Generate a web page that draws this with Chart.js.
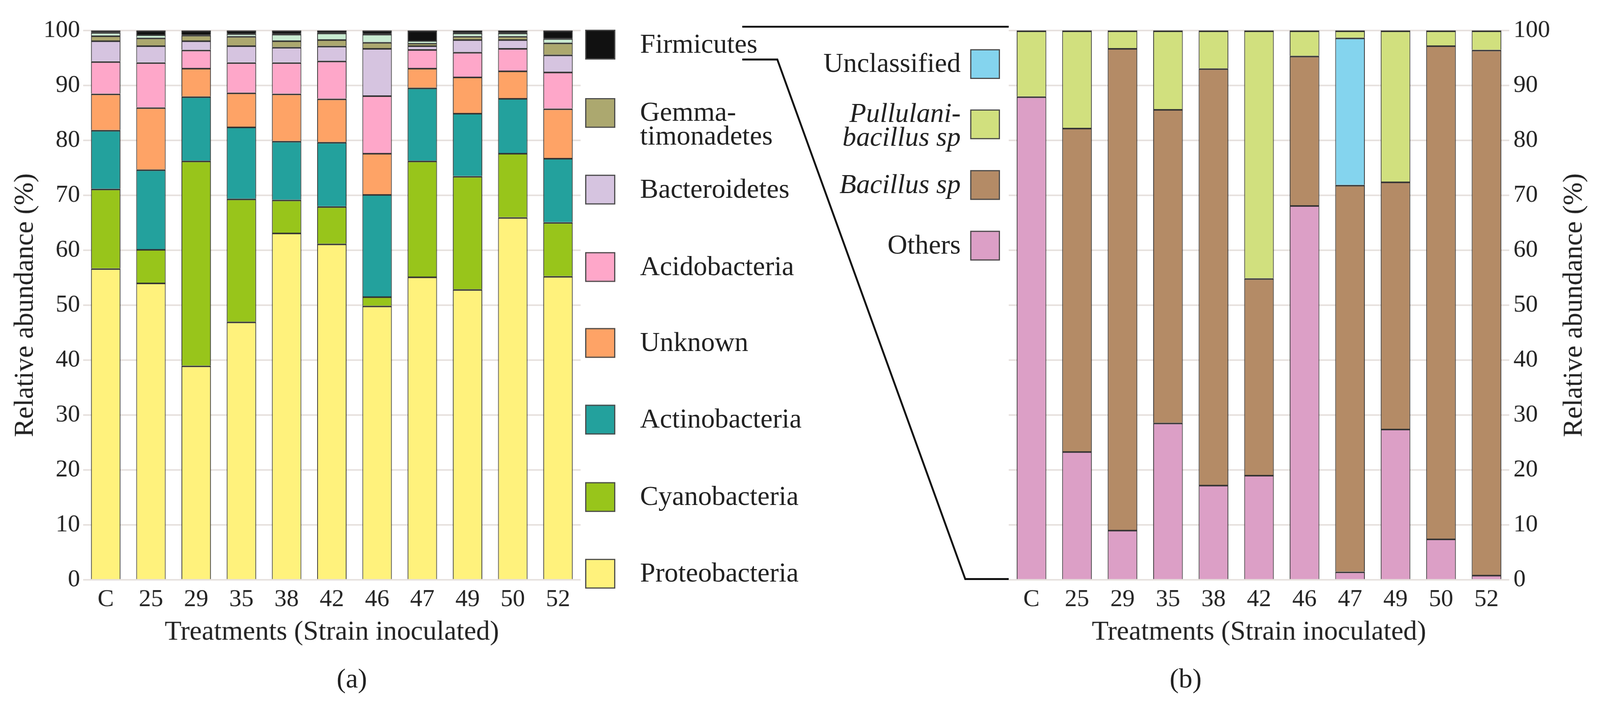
<!DOCTYPE html>
<html>
<head>
<meta charset="utf-8">
<script src="https://cdn.jsdelivr.net/npm/chart.js@4.4.1/dist/chart.umd.min.js"></script>
<style>
html,body{margin:0;padding:0;background:#fff;overflow:hidden;}
#page{position:absolute;left:0;top:0;width:4197px;height:1837px;overflow:hidden;font-family:'Liberation Serif',serif;color:#222;background:#fff;transform-origin:0 0;}
.cv{position:absolute;top:0;}
.sw{position:absolute;box-sizing:border-box;border:3px solid #4a4a4a;}
.lt{position:absolute;font-size:72px;line-height:62px;white-space:nowrap;color:#222;}
.panel{position:absolute;font-size:72px;line-height:86px;width:200px;margin-left:-100px;text-align:center;color:#222;}
svg{position:absolute;left:0;top:0;pointer-events:none;}
</style>
</head>
<body>
<div id="page">
  <div class="cv" style="left:0px;"><canvas id="chartA" style="width:1540px;height:1701px"></canvas></div>
  <div class="cv" style="left:2560px;"><canvas id="chartB" style="width:1637px;height:1701px"></canvas></div>
  <div class="panel" style="left:923px;top:1735px;">(a)</div>
  <div class="panel" style="left:3110px;top:1735px;">(b)</div>
  <div id="legendA"></div>
  <div id="legendB"></div>
  <svg width="4197" height="1837" viewBox="0 0 4197 1837">
    <polyline points="1947,70 2646,70" fill="none" stroke="#111" stroke-width="5"/>
    <polyline points="1947,156 2039,156 2532,1518 2646,1518" fill="none" stroke="#111" stroke-width="5" stroke-linejoin="miter"/>
  </svg>
</div>
<script>
// fit the 4197x1837 figure into whatever viewport the browser really has
(function fit(){
  const s = Math.min(window.innerWidth / 4197, window.innerHeight / 1837) || 1;
  document.getElementById('page').style.transform = 'scale(' + s + ')';
})();

// ---------- data ----------
const categories = ['C','25','29','35','38','42','46','47','49','50','52'];
const tickValues = [0,10,20,30,40,50,60,70,80,90,100];

// (a) phyla, relative abundance (%)
const proteobacteria   = [56.7,54.1,39.0,47.0,63.2,61.2,49.9,55.2,52.9,66.0,55.3];
const cyanobacteria    = [14.5, 6.1,37.3,22.4, 6.0, 6.8, 1.7,21.1,20.6,11.7, 9.8];
const actinobacteria   = [10.7,14.5,11.7,13.1,10.7,11.7,18.6,13.3,11.5,10.0,11.7];
const unknownPhyla     = [ 6.6,11.3, 5.2, 6.2, 8.6, 7.9, 7.5, 3.6, 6.6, 5.0, 9.0];
const acidobacteria    = [ 5.9, 8.2, 3.3, 5.5, 5.7, 6.9,10.5, 3.4, 4.5, 4.1, 6.7];
const bacteroidetes    = [ 3.8, 3.1, 1.7, 3.1, 2.8, 2.7, 8.6, 0.7, 2.3, 1.6, 3.1];
const gemmatimonadetes = [ 0.9, 1.4, 1.0, 1.7, 1.2, 1.2, 1.1, 0.4, 0.6, 0.6, 2.2];
const minorPhyla       = [ 0.6, 0.6, 0.0, 0.4, 1.2, 1.2, 1.5, 0.5, 0.6, 0.6, 0.8];
const firmicutes       = [ 0.3, 0.7, 0.8, 0.6, 0.6, 0.4, 0.6, 1.8, 0.4, 0.4, 1.4];

// (b) Firmicutes genera, relative abundance (%)
const othersB             = [88.0,23.4, 9.1,28.6,17.3,19.1,68.2, 1.5,27.5, 7.5, 0.9];
const bacillusSp          = [ 0.0,58.9,87.7,57.1,75.8,35.8,27.2,70.4,45.0,89.8,95.6];
const unclassifiedB       = [ 0.0, 0.0, 0.0, 0.0, 0.0, 0.0, 0.0,26.8, 0.0, 0.0, 0.0];
const pullulanibacillusSp = [12.0,17.7, 3.2,14.3, 6.9,45.1, 4.6, 1.3,27.5, 2.7, 3.5];

// ---------- styles ----------
const FONT = "'Liberation Serif', serif";
const TXT = '#222222';
const GRID = '#e6e0dd';
const Y_TITLE = 'Relative abundance (%)';

const seriesA = [
  {label:'Proteobacteria', data:proteobacteria, color:'#fff27c'},
  {label:'Cyanobacteria', data:cyanobacteria, color:'#98c51b'},
  {label:'Actinobacteria', data:actinobacteria, color:'#23a19d'},
  {label:'Unknown', data:unknownPhyla, color:'#fea366'},
  {label:'Acidobacteria', data:acidobacteria, color:'#fea7c9'},
  {label:'Bacteroidetes', data:bacteroidetes, color:'#d6c4e0'},
  {label:'Gemmatimonadetes', data:gemmatimonadetes, color:'#aca86f'},
  {label:'Minor phyla', data:minorPhyla, color:'#c9ebd1'},
  {label:'Firmicutes', data:firmicutes, color:'#111111'}
];
const seriesB = [
  {label:'Others', data:othersB, color:'#dc9fc6'},
  {label:'Bacillus sp', data:bacillusSp, color:'#b48b66'},
  {label:'Unclassified', data:unclassifiedB, color:'#84d4ee'},
  {label:'Pullulanibacillus sp', data:pullulanibacillusSp, color:'#d1e07e'}
];

function mkDatasets(series){
  return series.map(s => ({
    label: s.label, data: s.data, backgroundColor: s.color,
    borderColor: '#333333',
    borderWidth: {top:4, right:2, bottom:0, left:2},
    borderSkipped: false,
    categoryPercentage: 1.0, barPercentage: 0.65
  }));
}

function yScale(position, width, withTitle){
  return {
    position: position, stacked: true, min: 0, max: 100,
    afterBuildTicks: s => { s.ticks = tickValues.map(v => ({value: v})); },
    afterFit: s => { s.width = width; },
    grid: {color: GRID, lineWidth: 4, drawTicks: false},
    border: {display: false},
    ticks: {padding: position === 'left' ? 8 : 11, color: TXT, font: {family: FONT, size: 64}},
    title: withTitle ? {display: true, text: Y_TITLE, color: TXT,
      font: {family: FONT, size: 72}, padding: {top: 24, bottom: 0}} : {display: false}
  };
}
function xScale(){
  return {
    stacked: true,
    afterFit: s => { s.height = 181; },
    grid: {display: false, drawTicks: false},
    border: {display: false},
    ticks: {padding: 14, color: TXT, font: {family: FONT, size: 64}},
    title: {display: true, text: 'Treatments (Strain inoculated)', color: TXT,
      font: {family: FONT, size: 72}, padding: {top: 0, bottom: 0}}
  };
}

// right-hand axis title, reading bottom-to-top like the left one
const rightTitlePlugin = {
  id: 'rightTitle',
  afterDraw(chart) {
    const ctx = chart.ctx, ca = chart.chartArea, ys = chart.scales.y;
    ctx.save();
    ctx.font = "72px 'Liberation Serif', serif";
    ctx.fillStyle = TXT;
    ctx.textAlign = 'center';
    ctx.textBaseline = 'middle';
    ctx.translate(ys.right - 67, (ca.top + ca.bottom) / 2);
    ctx.rotate(-Math.PI / 2);
    ctx.fillText(Y_TITLE, 0, 0);
    ctx.restore();
  }
};

new Chart(document.getElementById('chartA'), {
  type: 'bar',
  data: {labels: categories, datasets: mkDatasets(seriesA)},
  options: {
    responsive: false, animation: false,
    layout: {padding: {top: 80, right: 17, left: 0, bottom: 0}},
    plugins: {legend: {display: false}, tooltip: {enabled: false}},
    scales: {x: xScale(), y: yScale('left', 218, true)}
  }
});

new Chart(document.getElementById('chartB'), {
  type: 'bar',
  data: {labels: categories, datasets: mkDatasets(seriesB)},
  plugins: [rightTitlePlugin],
  options: {
    responsive: false, animation: false,
    layout: {padding: {top: 80, right: 0, left: 86, bottom: 0}},
    plugins: {legend: {display: false}, tooltip: {enabled: false}},
    scales: {x: xScale(), y: yScale('right', 238, false)}
  }
});

// ---------- HTML legends ----------
const legendA = [
  {text:'Firmicutes', color:'#111111', cy:117},
  {text:'Gemma-<br>timonadetes', color:'#aca86f', cy:296},
  {text:'Bacteroidetes', color:'#d6c4e0', cy:497},
  {text:'Acidobacteria', color:'#fea7c9', cy:700},
  {text:'Unknown', color:'#fea366', cy:899},
  {text:'Actinobacteria', color:'#23a19d', cy:1100},
  {text:'Cyanobacteria', color:'#98c51b', cy:1303},
  {text:'Proteobacteria', color:'#fff27c', cy:1504}
];
const legendB = [
  {text:'Unclassified', color:'#84d4ee', cy:168, top:134},
  {text:'<i>Pullulani-<br>bacillus sp</i>', color:'#d1e07e', cy:326, top:265},
  {text:'<i>Bacillus sp</i>', color:'#b48b66', cy:485, top:451},
  {text:'Others', color:'#dc9fc6', cy:644, top:610}
];
let hA = '';
legendA.forEach(it => {
  hA += `<div class="sw" style="left:1535px;top:${it.cy-39}px;width:79px;height:78px;background:${it.color}"></div>`;
  hA += `<div class="lt" style="left:1679px;top:${it.cy-34}px;">${it.text}</div>`;
});
document.getElementById('legendA').innerHTML = hA;
let hB = '';
legendB.forEach(it => {
  hB += `<div class="sw" style="left:2545px;top:${it.cy-39}px;width:78px;height:78px;background:${it.color}"></div>`;
  hB += `<div class="lt" style="right:${4197-2520}px;top:${it.top}px;text-align:right;">${it.text}</div>`;
});
document.getElementById('legendB').innerHTML = hB;
</script>
</body>
</html>
